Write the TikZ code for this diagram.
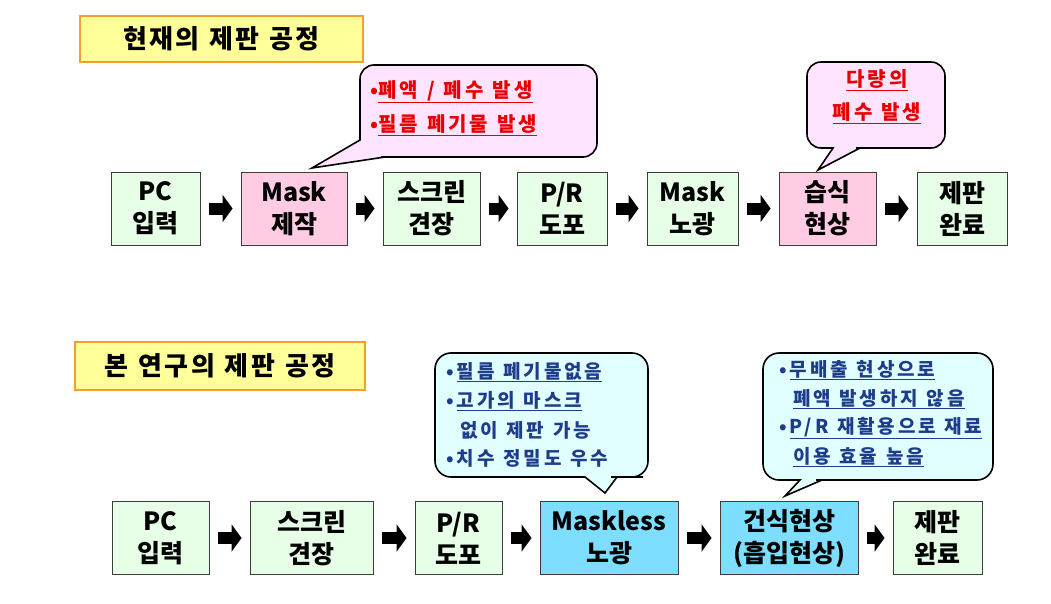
\documentclass[tikz,border=0pt]{standalone}
\usepackage{fontspec}
\setmainfont{Noto Sans CJK KR}
\newfontfamily\callfont[LetterSpace=15,WordSpace=1.3]{Noto Sans CJK KR}
\newfontfamily\callfontb[LetterSpace=15,WordSpace=1.2]{Noto Sans CJK KR}
\newfontfamily\titlefont[LetterSpace=9,WordSpace=1.2]{Noto Sans CJK KR}
\usetikzlibrary{arrows.meta}
\definecolor{gfill}{RGB}{230,255,230}
\definecolor{pfill}{RGB}{255,204,228}
\definecolor{bfill}{RGB}{125,222,255}
\definecolor{cpink}{RGB}{255,228,255}
\definecolor{ccyan}{RGB}{226,255,255}
\definecolor{yfill}{RGB}{255,255,153}
\definecolor{oline}{RGB}{245,160,40}
\definecolor{redtxt}{RGB}{230,0,0}
\definecolor{bluetxt}{RGB}{30,60,140}
\definecolor{boxline}{RGB}{60,60,60}
\tikzset{
  stepbox/.style={draw=boxline, line width=0.9pt, align=center, inner sep=0pt,
    font=\fontsize{25}{32}\selectfont\bfseries, minimum height=73pt},
  gbox/.style={stepbox, fill=gfill},
  pbox/.style={stepbox, fill=pfill},
  bbox/.style={stepbox, fill=bfill},
  titlebox/.style={draw=oline, line width=1.6pt, fill=yfill, inner sep=0pt,
    font=\titlefont\fontsize{26}{30}\selectfont\bfseries},
  barrow/.style={line width=12pt, -{Triangle[length=10pt,width=27pt]},
    shorten <=9pt, shorten >=8pt},
  calloutp/.style={draw=black, line width=1.6pt, fill=cpink},
  calloutc/.style={draw=black, line width=1.6pt, fill=ccyan},
  ctxt/.style={anchor=west, inner sep=0pt},
  rtxt/.style={text=redtxt, inner sep=0pt, font=\callfont\fontsize{20}{22}\selectfont\bfseries},
  btxt/.style={ctxt, text=bluetxt, font=\callfontb\fontsize{19}{21}\selectfont\bfseries},
}
\begin{document}
\begin{tikzpicture}[x=1pt,y=-1pt]
\useasboundingbox (0,0) rectangle (1051,604);
% titles
\node[titlebox, minimum width=283pt, minimum height=46pt] (t1) at (221.5,39) {현재의 제판 공정};
\node[titlebox, minimum width=290pt, minimum height=48pt] (t2) at (220,366) {본 연구의 제판 공정};

% top row
\node[gbox, minimum width=89pt]  (a1) at (155.5,208.5) {PC\\입력};
\node[pbox, minimum width=106pt] (a2) at (294,208.5) {Mask\\제작};
\node[gbox, minimum width=97pt]  (a3) at (431.5,208.5) {스크린\\견장};
\node[gbox, minimum width=90pt]  (a4) at (562,208.5) {P/R\\도포};
\node[gbox, minimum width=91pt]  (a5) at (692.5,208.5) {Mask\\노광};
\node[pbox, minimum width=97pt]  (a6) at (827.5,208.5) {습식\\현상};
\node[gbox, minimum width=90pt]  (a7) at (962,208.5) {제판\\완료};
\foreach \i/\j in {a1/a2,a2/a3,a3/a4,a4/a5,a5/a6,a6/a7}
  \draw[barrow] (\i) -- (\j);

% bottom row
\node[gbox, minimum width=97pt]  (b1) at (160.5,538) {PC\\입력};
\node[gbox, minimum width=123pt] (b2) at (311.5,538) {스크린\\견장};
\node[gbox, minimum width=87pt]  (b3) at (458.5,538) {P/R\\도포};
\node[bbox, minimum width=138pt] (b4) at (609,538) {Maskless\\노광};
\node[bbox, minimum width=138pt] (b5) at (789,538) {건식현상\\(흡입현상)};
\node[gbox, minimum width=89pt]  (b6) at (937.5,538) {제판\\완료};
\foreach \i/\j in {b1/b2,b2/b3,b3/b4,b4/b5,b5/b6}
  \draw[barrow] (\i) -- (\j);

% callout 1
\draw[calloutp] (478,65) [rounded corners=14pt] -- (597,65) -- (597,157) -- (395,157)
  [sharp corners] -- (385,157) -- (312,168) -- (360,140) -- (360,130)
  [rounded corners=14pt] -- (360,65) -- cycle;
\node[rtxt, anchor=west] (c1a) at (370,92) {•\underline{폐액 / 폐수 발생}};
\node[rtxt, anchor=west] (c1b) at (370,125) {•\underline{필름 폐기물 발생}};

% callout 2
\draw[calloutp] (876,62) [rounded corners=14pt] -- (945,62) -- (945,148) -- (870,148)
  [sharp corners] -- (860,148) -- (818,170) -- (833,148) -- (823,148)
  [rounded corners=14pt] -- (807,148) -- (807,62) -- cycle;
\node[rtxt] (c2a) at (877,80) {\underline{다량의}};
\node[rtxt] (c2b) at (877,113) {\underline{폐수 발생}};

% callout 3
\draw[calloutc] (540,353) [rounded corners=16pt] -- (648,353) -- (648,477) -- (627,477)
  [sharp corners] -- (617,477) -- (605,493) -- (585,477) -- (575,477)
  [rounded corners=16pt] -- (435,477) -- (435,353) -- cycle;
\node[btxt] (c3a) at (446,372) {•\,\underline{필름 폐기물없음}};
\node[btxt] (c3b) at (446,401) {•\,\underline{고가의 마스크}};
\node[btxt] (c3c) at (460,430) {없이 제판 가능};
\node[btxt] (c3d) at (446,458) {•\,치수 정밀도 우수};

% callout 4
\draw[calloutc] (878,353) [rounded corners=16pt] -- (993,353) -- (993,480) -- (832,480)
  [sharp corners] -- (822,480) -- (785,496) -- (800,480) -- (790,480)
  [rounded corners=16pt] -- (763,480) -- (763,353) -- cycle;
\node[btxt] (c4a) at (779,370) {•\,\underline{무배출 현상으로}};
\node[btxt] (c4b) at (793,399) {\underline{폐액 발생하지 않음}};
\node[btxt] (c4c) at (779,428) {•\,\underline{P/R 재활용으로 재료}};
\node[btxt] (c4d) at (793,457) {\underline{이용 효율 높음}};
\end{tikzpicture}
\end{document}
